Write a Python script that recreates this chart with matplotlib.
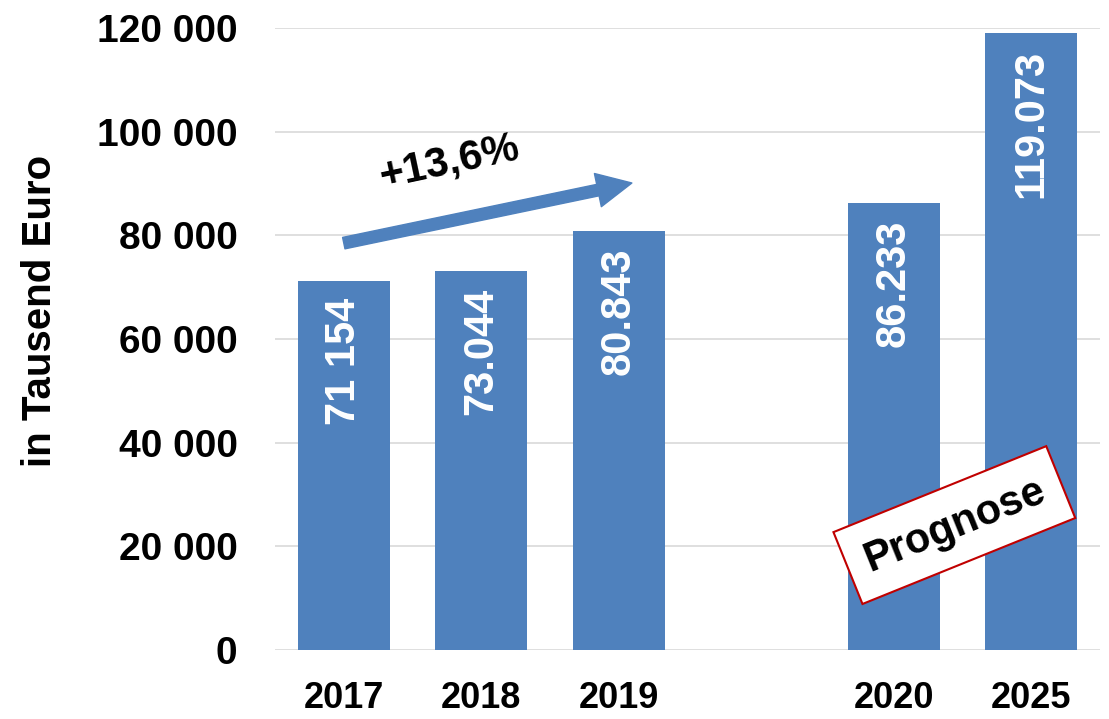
import matplotlib
matplotlib.use("Agg")
import matplotlib.pyplot as plt
from matplotlib.patches import FancyArrowPatch, ArrowStyle

# Data
categories = ["2017", "2018", "2019", "2020", "2025"]
positions = [0, 1, 2, 4, 5]
values = [71154, 73044, 80843, 86233, 119073]
value_labels = ["71 154", "73.044", "80.843", "86.233", "119.073"]
yticks = [0, 20000, 40000, 60000, 80000, 100000, 120000]
ytick_labels = ["0", "20 000", "40 000", "60 000", "80 000", "100 000", "120 000"]
growth_label = "+13,6%"
forecast_label = "Prognose"
ylabel = "in Tausend Euro"

BAR = "#4F81BD"
FONT = "Liberation Sans"

fig = plt.figure(figsize=(11.09, 7.19), dpi=100)
ax = fig.add_axes([0.248, 0.096, 0.744, 0.865])

ax.bar(positions, values, width=0.67, color=BAR, zorder=2)
ax.set_xlim(-0.5, 5.5)
ax.set_ylim(0, 120000)

ax.set_yticks(yticks)
ax.set_yticklabels(ytick_labels, fontsize=28, fontweight="bold", family=FONT)
ax.set_xticks(positions)
ax.set_xticklabels(categories, fontsize=26, fontweight="bold", family=FONT)
ax.tick_params(axis="y", length=0, pad=27)
ax.tick_params(axis="x", length=0, pad=22)
for s in ax.spines.values():
    s.set_visible(False)
ax.grid(axis="y", color="#D9D9D9", linewidth=1.2, zorder=0)
ax.set_axisbelow(True)

ax.set_ylabel(ylabel, fontsize=29, fontweight="bold", family=FONT, va="center")
ax.yaxis.set_label_coords(-0.285, 0.545)

# value labels inside bars
for x, v, lab in zip(positions, values, value_labels):
    ax.annotate(lab, xy=(x, v), xytext=(0, -12), textcoords="offset points",
                rotation=90, ha="center", va="top", color="white",
                fontsize=30, fontweight="bold", family=FONT, zorder=3)

# growth arrow
arrow = FancyArrowPatch((0.0, 78500), (2.095, 90100),
                        arrowstyle=ArrowStyle("simple", head_length=1.25, head_width=1.22, tail_width=0.42),
                        mutation_scale=20, color=BAR, shrinkA=0, shrinkB=0, zorder=4)
ax.add_patch(arrow)
ax.text(0.77, 94200, growth_label, rotation=12, ha="center", va="center",
        fontsize=30, fontweight="bold", family=FONT, color="black", zorder=5,
        rotation_mode="anchor")

# forecast box
ax.text(4.44, 24100, forecast_label, rotation=22, ha="center", va="center",
        rotation_mode="anchor", fontsize=30, fontweight="bold", family=FONT,
        color="black", zorder=5,
        bbox=dict(boxstyle="square,pad=0.45", fc="white", ec="#C00000", lw=1.5))

fig.savefig("out.png", dpi=100)
